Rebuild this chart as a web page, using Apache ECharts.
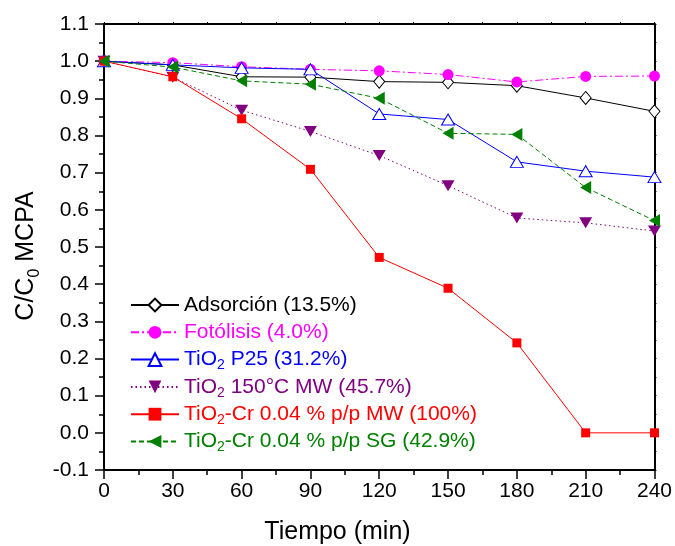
<!DOCTYPE html>
<html>
<head>
<meta charset="utf-8">
<script src="https://cdn.jsdelivr.net/npm/echarts@6/dist/echarts.min.js"></script>
<style>
  html, body { margin: 0; padding: 0; background: #fff; }
  #chart { width: 675px; height: 546px; }
</style>
</head>
<body>
<div id="chart"></div>
<script>
// Sampling times (min)
const tiempo = [0, 30, 60, 90, 120, 150, 180, 210, 240];

// C/C0 of MCPA for each experiment
const adsorcion   = [1.000, 0.990, 0.958, 0.957, 0.945, 0.943, 0.934, 0.901, 0.865];
const fotolisis   = [1.000, 0.996, 0.985, 0.978, 0.974, 0.964, 0.944, 0.959, 0.960];
const tio2P25     = [1.000, 0.990, 0.982, 0.978, 0.858, 0.843, 0.729, 0.704, 0.688];
const tio2MW150   = [1.000, 0.957, 0.868, 0.811, 0.746, 0.665, 0.578, 0.565, 0.543];
const tio2CrMW    = [1.000, 0.958, 0.845, 0.709, 0.472, 0.389, 0.242, 0.000, 0.000];
const tio2CrSG    = [1.000, 0.984, 0.947, 0.938, 0.900, 0.806, 0.803, 0.660, 0.571];

// Legend / series names
const seriesNames = [
  'Adsorción (13.5%)',
  'Fotólisis (4.0%)',
  'TiO2 P25 (31.2%)',
  'TiO2 150°C MW (45.7%)',
  'TiO2-Cr 0.04 % p/p MW (100%)',
  'TiO2-Cr 0.04 % p/p SG (42.9%)'
];

// Axis ranges and tick steps
const xTicks = { min: 0, max: 240, step: 30 };
const yTicks = { min: -0.1, max: 1.1, step: 0.1 };

const FONT = '"Liberation Sans", Arial, Helvetica, sans-serif';
const colors = ['#000000', '#ff00ff', '#0000ff', '#800080', '#ff0000', '#008000'];

const pairs = (ys) => tiempo.map((t, i) => [t, ys[i]]);

// Per-colour rich styles; the subscript token is pushed down with top padding.
// Every row uses the same line height so the entries stay evenly spaced.
const rich = {};
colors.forEach((c, i) => {
  rich['m' + i] = { fontFamily: FONT, fontSize: 21, lineHeight: 28, color: c };
  rich['s' + i] = { fontFamily: FONT, fontSize: 14, lineHeight: 6, padding: [12, 0, 0, 0], color: c };
});

function legendLabel(name) {
  const i = seriesNames.indexOf(name);
  return name.split('TiO2').map(p => p ? '{m' + i + '|' + p + '}' : '')
    .join('{m' + i + '|TiO}{s' + i + '|2}');
}

function lineSeries(idx, data, symbol, size, opts) {
  return Object.assign({
    name: seriesNames[idx],
    type: 'line',
    data: pairs(data),
    symbol: symbol,
    symbolSize: size,
    showAllSymbol: true,
    animation: false,
    z: 2 + idx,
    lineStyle: { color: colors[idx], width: 1, type: 'solid' },
    itemStyle: { color: colors[idx] },
    emphasis: { disabled: true }
  }, opts);
}

const series = [
  lineSeries(0, adsorcion, 'diamond', [11, 13], {
    itemStyle: { color: '#ffffff', borderColor: '#000000', borderWidth: 1 }
  }),
  lineSeries(1, fotolisis, 'circle', 11, {
    lineStyle: { color: colors[1], width: 1, type: [8, 3, 2, 3] }
  }),
  lineSeries(2, tio2P25, 'triangle', [13, 11], {
    itemStyle: { color: '#ffffff', borderColor: colors[2], borderWidth: 1 }
  }),
  lineSeries(3, tio2MW150, 'triangle', [13, 11], {
    symbolRotate: 180,
    lineStyle: { color: colors[3], width: 1, type: [1.5, 3] }
  }),
  lineSeries(4, tio2CrMW, 'rect', 9, {}),
  lineSeries(5, tio2CrSG, 'triangle', [13, 11], {
    symbolRotate: 90,
    lineStyle: { color: colors[5], width: 1, type: [5, 3] }
  })
];

const axisLineStyle = { show: true, lineStyle: { color: '#000', width: 2 } };

const chart = echarts.init(document.getElementById('chart'), null, { renderer: 'canvas' });
chart.setOption({
  backgroundColor: '#ffffff',
  animation: false,
  textStyle: { fontFamily: FONT },
  grid: { left: 104, right: 19, top: 24, bottom: 76, containLabel: false },
  legend: {
    orient: 'vertical',
    left: 130,
    top: 291,
    padding: 0,
    itemWidth: 48,
    itemHeight: 16,
    itemGap: -0.7,
    symbolRotate: 'inherit',
    selectedMode: false,
    data: seriesNames.map((n, i) => ({ name: n, textStyle: { color: colors[i] } })),
    formatter: legendLabel,
    textStyle: { fontFamily: FONT, fontSize: 21, lineHeight: 28, rich: rich }
  },
  xAxis: [
    {
      type: 'value', min: xTicks.min, max: xTicks.max, interval: xTicks.step,
      axisLine: Object.assign({ onZero: false }, axisLineStyle),
      axisTick: { show: true, inside: false, length: 9, lineStyle: { color: '#000', width: 1.5 } },
      minorTick: { show: true, splitNumber: 2, length: 5, lineStyle: { color: '#000', width: 1.5 } },
      axisLabel: { color: '#000', fontSize: 21, fontFamily: FONT, margin: 11 },
      splitLine: { show: false }
    },
    {
      type: 'value', position: 'top', min: xTicks.min, max: xTicks.max, interval: xTicks.step,
      axisLine: Object.assign({ onZero: false }, axisLineStyle),
      axisTick: { show: true, inside: false, length: 2, lineStyle: { color: '#000', width: 1 } },
      minorTick: { show: true, splitNumber: 2, length: 2, lineStyle: { color: '#000', width: 1 } },
      axisLabel: { show: false },
      splitLine: { show: false }
    }
  ],
  yAxis: [
    {
      type: 'value', min: yTicks.min, max: yTicks.max, interval: yTicks.step,
      axisLine: Object.assign({ onZero: false }, axisLineStyle),
      axisTick: { show: true, inside: false, length: 9, lineStyle: { color: '#000', width: 1.5 } },
      minorTick: { show: true, splitNumber: 2, length: 5, lineStyle: { color: '#000', width: 1.5 } },
      axisLabel: {
        color: '#000', fontSize: 21, fontFamily: FONT, margin: 15,
        formatter: v => v.toFixed(1)
      },
      splitLine: { show: false }
    },
    {
      type: 'value', position: 'right', min: yTicks.min, max: yTicks.max, interval: yTicks.step,
      axisLine: Object.assign({ onZero: false }, axisLineStyle),
      axisTick: { show: true, inside: false, length: 2, lineStyle: { color: '#000', width: 1 } },
      minorTick: { show: true, splitNumber: 2, length: 2, lineStyle: { color: '#000', width: 1 } },
      axisLabel: { show: false },
      splitLine: { show: false }
    }
  ],
  graphic: [
    {
      type: 'text', left: 'center', top: 520,
      style: { text: 'Tiempo (min)', fontFamily: FONT, fontSize: 25, fill: '#000' },
      silent: true
    },
    {
      type: 'text', x: 26, y: 256, rotation: Math.PI / 2,
      style: {
        text: '{a|C/C}{b|0}{a| MCPA}',
        fill: '#000',
        align: 'center', verticalAlign: 'middle',
        rich: {
          a: { fontFamily: FONT, fontSize: 25, lineHeight: 28, fill: '#000' },
          b: { fontFamily: FONT, fontSize: 16, lineHeight: 6, padding: [18, 0, 0, 0], fill: '#000' }
        }
      },
      silent: true
    }
  ],
  series: series
});
</script>
</body>
</html>
